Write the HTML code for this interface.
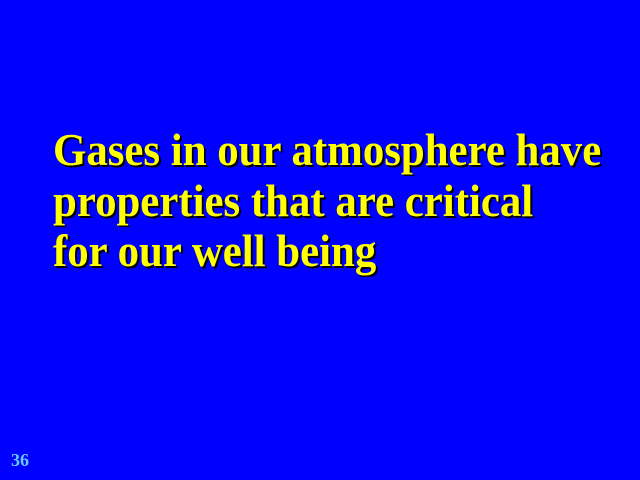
<!DOCTYPE html>
<html><head><meta charset="utf-8"><style>
html,body{margin:0;padding:0}
body{width:640px;height:480px;background:#0000ff;position:relative;overflow:hidden}
.t{position:absolute;left:53px;font-family:"Liberation Serif",serif;font-weight:bold;font-size:45px;color:#ffff00;text-shadow:2px 2px 0 #000;white-space:nowrap;line-height:1;transform:scaleX(0.952);transform-origin:0 0}
#n{position:absolute;left:11px;top:450px;font-family:"Liberation Serif",serif;font-weight:bold;font-size:18px;color:#66ccff}
</style></head><body>
<div class="t" style="top:128px">Gases in our atmosphere have</div>
<div class="t" style="top:179px">properties that are critical</div>
<div class="t" style="top:229px">for our well being</div>
<div id="n">36</div>
</body></html>
